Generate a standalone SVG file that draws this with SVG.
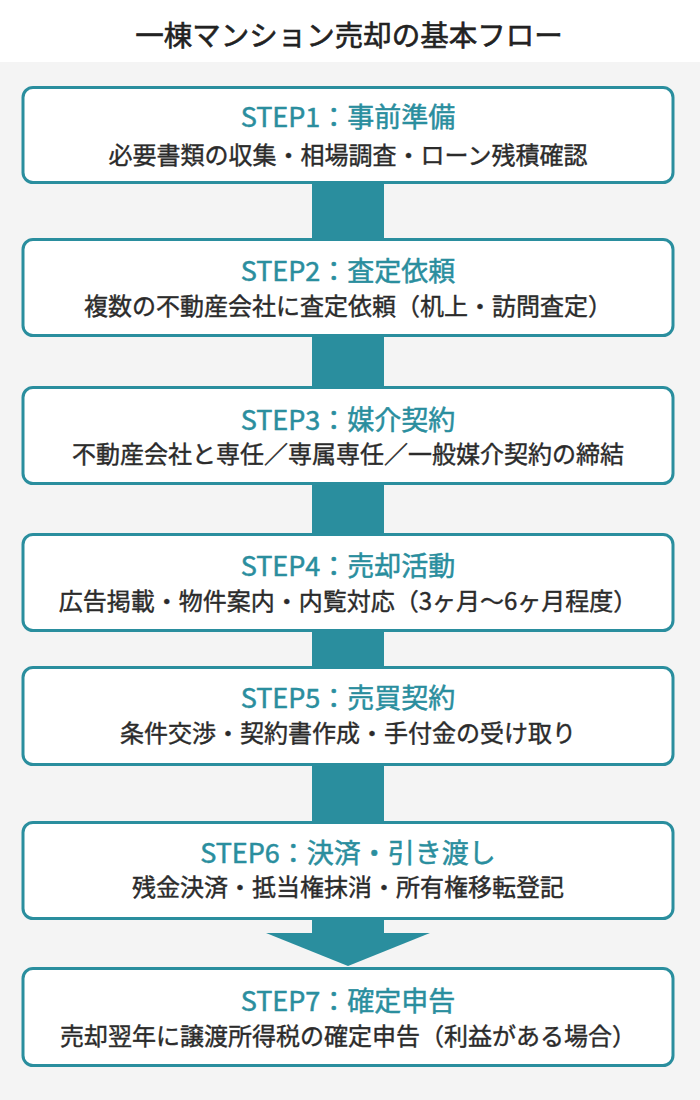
<svg xmlns="http://www.w3.org/2000/svg" width="700" height="1100" viewBox="0 0 700 1100">
<style>
.box{fill:#ffffff;stroke:#2a8e9e;stroke-width:3}
.conn{fill:#2a8e9e}
.step{font-family:"Noto Sans CJK JP","Noto Sans",sans-serif;font-size:27px;font-weight:400;fill:#2a8e9e;text-anchor:middle;stroke:#2a8e9e;stroke-width:0.5}
.sub{font-family:"Noto Sans CJK JP","Noto Sans",sans-serif;font-size:24px;font-weight:400;fill:#2b2b2b;text-anchor:middle;stroke:#2b2b2b;stroke-width:0.4}
.title{font-family:"Noto Sans CJK JP","Noto Sans",sans-serif;font-size:28.5px;font-weight:400;fill:#222222;text-anchor:middle;stroke:#222222;stroke-width:0.6}
</style>
<rect x="0" y="0" width="700" height="62" fill="#ffffff"/>
<rect x="0" y="62" width="700" height="1038" fill="#f4f4f4"/>
<text class="title" x="349" y="46">一棟マンション売却の基本フロー</text>
<g id="connectors">
<rect class="conn" x="312" y="182" width="72" height="58"/>
<rect class="conn" x="312" y="335" width="72" height="54"/>
<rect class="conn" x="312" y="482" width="72" height="53"/>
<rect class="conn" x="312" y="630" width="72" height="38"/>
<rect class="conn" x="312" y="764" width="72" height="59"/>
<rect class="conn" x="312" y="918" width="72" height="16"/>
<polygon class="conn" points="266,933 430,933 348,966"/>
</g>
<g id="step1">
<rect class="box" x="23" y="87.5" width="650" height="95" rx="10"/>
<text class="step" x="348" y="127">STEP1：事前準備</text>
<text class="sub" x="348" y="164">必要書類の収集・相場調査・ローン残積確認</text>
</g>
<g id="step2">
<rect class="box" x="23" y="239.5" width="650" height="96" rx="10"/>
<text class="step" x="348" y="281">STEP2：査定依頼</text>
<text class="sub" x="348" y="315">複数の不動産会社に査定依頼（机上・訪問査定）</text>
</g>
<g id="step3">
<rect class="box" x="23" y="387.5" width="650" height="96" rx="10"/>
<text class="step" x="348" y="430">STEP3：媒介契約</text>
<text class="sub" x="348" y="463">不動産会社と専任／専属専任／一般媒介契約の締結</text>
</g>
<g id="step4">
<rect class="box" x="23" y="534.5" width="650" height="96" rx="10"/>
<text class="step" x="348" y="576">STEP4：売却活動</text>
<text class="sub" x="348" y="610">広告掲載・物件案内・内覧対応（3ヶ月～6ヶ月程度）</text>
</g>
<g id="step5">
<rect class="box" x="23" y="667.5" width="650" height="97" rx="10"/>
<text class="step" x="348" y="708">STEP5：売買契約</text>
<text class="sub" x="348" y="742">条件交渉・契約書作成・手付金の受け取り</text>
</g>
<g id="step6">
<rect class="box" x="23" y="822.5" width="650" height="96" rx="10"/>
<text class="step" x="348" y="863">STEP6：決済・引き渡し</text>
<text class="sub" x="348" y="896">残金決済・抵当権抹消・所有権移転登記</text>
</g>
<g id="step7">
<rect class="box" x="23" y="968.5" width="650" height="97" rx="10"/>
<text class="step" x="348" y="1011">STEP7：確定申告</text>
<text class="sub" x="348" y="1045">売却翌年に譲渡所得税の確定申告（利益がある場合）</text>
</g>
</svg>
